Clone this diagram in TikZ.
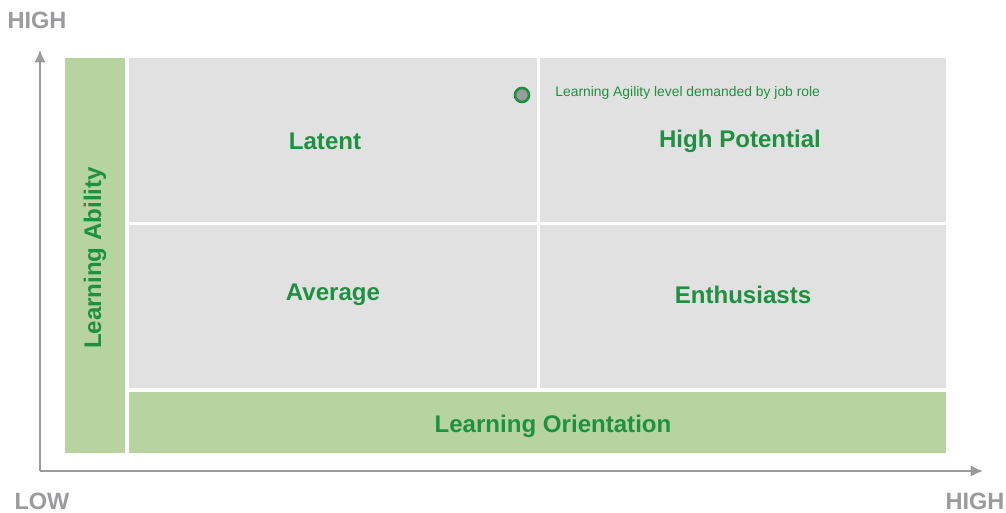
\documentclass[tikz,border=0pt]{standalone}
\usepackage{fontspec}
\setmainfont{Liberation Sans}
\usetikzlibrary{arrows.meta}
\definecolor{axisgray}{HTML}{9B9B9D}
\definecolor{bargreen}{HTML}{B6D3A0}
\definecolor{boxgray}{HTML}{E1E1E1}
\definecolor{txtgreen}{HTML}{1E9140}
\begin{document}
\begin{tikzpicture}[x=0.02cm, y=-0.02cm, font=\bfseries, line join=round, >={Latex[length=7pt,width=6.5pt]},
	axis/.style={draw=axisgray, line width=1.2pt},
	axlbl/.style={text=axisgray, font=\bfseries\fontsize{13.4}{15}\selectfont},
	lbl/.style={text=txtgreen, font=\bfseries\fontsize{13.7}{16}\selectfont},
	dot/.style={circle, fill=axisgray, draw=txtgreen, line width=1.5pt, inner sep=0pt, minimum size=14*0.02cm}]
	\useasboundingbox (0,0) rectangle (1006,513);
	% bars and quadrants
	\fill[bargreen] (65,58) rectangle (125,453);
	\fill[bargreen] (129,392) rectangle (946,453);
	\foreach \xa/\xb in {129/537,540/946}{
		\foreach \ya/\yb in {58/222,225/388}{\fill[boxgray] (\xa,\ya) rectangle (\xb,\yb);}}
	% axes
	\coordinate (origin) at (40,471);
	\coordinate (ytip) at (40,50);
	\coordinate (xtip) at (983,471);
	\draw[axis,->] (origin)--(ytip);
	\draw[axis,->] (origin)--(xtip);
	\node[axlbl] (yhigh) at (37,20) {HIGH};
	\node[axlbl] (xlow) at (42,501) {LOW};
	\node[axlbl] (xhigh) at (975,501) {HIGH};
	% labels
	\node[lbl] (latent) at (325,141) {Latent};
	\node[lbl] (highpot) at (740,141) {High Potential};
	\node[lbl] (average) at (333,295) {Average};
	\node[lbl] (enthus) at (743,295) {Enthusiasts};
	\node[lbl] (orient) at (553,426) {Learning Orientation};
	\node[lbl, rotate=90] (ability) at (95,258) {Learning Ability};
	\node[dot] (demand) at (522,95) {};
	\node[text=txtgreen, font=\fontsize{7.9}{9}\selectfont, anchor=west, inner sep=0pt] (demandtxt) at (555,93) {Learning Agility level demanded by job role};
\end{tikzpicture}
\end{document}
